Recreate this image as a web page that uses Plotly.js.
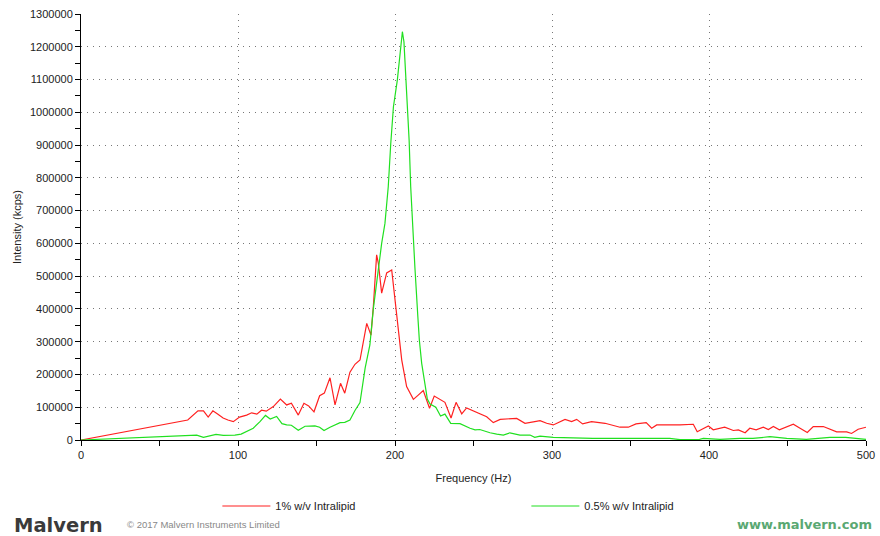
<!DOCTYPE html>
<html>
<head>
<meta charset="utf-8">
<script src="https://cdn.plot.ly/plotly-3.0.1.min.js"></script>
<style>html,body{margin:0;padding:0;background:#fff;}#chart{width:880px;height:536px;}</style>
</head>
<body>
<div id="chart"></div>
<script>
// Series 1: 1% w/v Intralipid
var freq1 = [0,68,74.5,78,81,84,87,90.5,93.6,97,101,105.5,108.7,112,115,118,122.5,127,131,134,138.4,142,145,148.4,152,155,158.6,161.8,165.3,168,171.3,174.5,177.7,182,184.7,186.2,188.3,189.4,191.5,194.7,197.9,200,203.2,204.3,207.4,210.6,211.7,214.8,218,222,225,231.8,235.7,238.9,242.5,245.6,251,258.4,262.6,267,277.5,282.8,289,292.4,296.6,300.8,308.3,312.5,315.7,319.5,325.2,333.8,343.3,348.6,353.5,360,363.5,366.7,381.5,390,392.5,399.6,402.7,410,415.5,418.7,423,426,430,434.6,437.8,441,444.8,449.5,453.7,458,462.6,466.4,472.8,481.3,487.7,490.8,495,500];
var int1 = [0,61000,89000,89000,70000,89000,79000,67000,61000,56000,70000,76000,83000,79000,91000,88000,102000,125000,107000,112000,76000,112000,104000,86000,135000,143000,190000,107000,173000,143000,207000,231000,244000,356000,320000,407000,565000,539000,448000,510000,519000,427000,300000,244000,163000,132000,124000,137000,151000,97000,134000,115000,67000,115000,80000,98000,86000,71000,53000,63000,66000,51000,56000,59000,51000,46000,63000,56000,63000,49000,56000,51000,39000,39000,49000,53000,36000,46000,46000,48000,25000,43000,31000,39000,29000,31000,22000,36000,31000,39000,32000,41000,31000,39000,48000,36000,23000,41000,41000,25000,25000,20000,33000,39000];
// Series 2: 0.5% w/v Intralipid
var freq2 = [0,25,50,67,73.7,78,86,90.6,98,102,109.7,114,117.5,120.5,124.6,128,131,134,138.4,142.7,149,152,154.8,158.6,160.7,165,168,171.3,174.5,177.7,181,184,186.2,189.4,191.5,193.6,195.7,197.3,199,201.5,203.2,204.7,205.7,207,208,209,210,211.2,212.7,214.5,215.5,217,219.5,220.6,222.3,226,229,231.8,235.5,241.4,247.8,251,254,260.5,264.8,269,273.2,279.6,286,289,292.4,300.8,326,375,381.5,394,396.4,407,419.7,428,438.8,449.5,462,477,487,492,500];
var int2 = [0,5000,10000,12000,15000,8000,17000,14000,15000,18000,36000,56000,75000,64000,72000,50000,46000,45000,30000,42000,43000,39000,29000,39000,43000,53000,54000,61000,90000,114000,220000,290000,400000,529000,600000,661000,773000,905000,1017000,1099000,1180000,1246000,1215000,1109000,1007000,915000,773000,650000,525000,380000,305000,234000,163000,125000,110000,100000,73000,79000,51000,50000,36000,31000,32000,22000,18000,15000,22000,15000,15000,8000,12000,8000,5000,5000,1000,2000,5000,2000,5000,5000,10000,5000,2000,8000,8000,5000,2000];

var seriesNames = ["1% w/v Intralipid", "0.5% w/v Intralipid"];
var seriesColors = ["#ff2020", "#20e020"];
var xTickVals = [0,100,200,300,400,500];
var yTickVals = [0,100000,200000,300000,400000,500000,600000,700000,800000,900000,1000000,1100000,1200000,1300000];

var traces = [
  {x: freq1, y: int1, type: 'scatter', mode: 'lines', name: seriesNames[0], line: {color: seriesColors[0], width: 1.2}},
  {x: freq2, y: int2, type: 'scatter', mode: 'lines', name: seriesNames[1], line: {color: seriesColors[1], width: 1.2}}
];

var tickFont = {family: 'Liberation Sans, Arial, sans-serif', size: 11, color: '#222'};

var layout = {
  width: 880, height: 536,
  margin: {l: 81, r: 14, t: 14, b: 96, autoexpand: false},
  paper_bgcolor: '#fff', plot_bgcolor: '#fff',
  showlegend: true,
  legend: {
    orientation: 'h', xref: 'container', yref: 'container',
    x: 0.247, y: 0.056, xanchor: 'left', yanchor: 'middle',
    entrywidth: 246, entrywidthmode: 'pixels', itemwidth: 48,
    font: {family: 'Liberation Sans, Arial, sans-serif', size: 11, color: '#222'},
    bgcolor: 'rgba(0,0,0,0)'
  },
  xaxis: {
    range: [0, 500], tickvals: xTickVals, ticktext: xTickVals.map(String),
    showline: true, linecolor: '#000', linewidth: 1, mirror: false,
    ticks: 'outside', ticklen: 5, tickcolor: '#000',
    minor: {dtick: 50, ticks: 'outside', ticklen: 5, tickcolor: '#000', showgrid: false},
    showgrid: true, gridcolor: '#777', griddash: '1px,5px', gridwidth: 1,
    zeroline: false, tickfont: tickFont,
    title: {text: 'Frequency (Hz)', font: tickFont, standoff: 14}
  },
  yaxis: {
    range: [0, 1300000], tickvals: yTickVals, ticktext: yTickVals.map(String),
    showline: true, linecolor: '#000', linewidth: 1,
    ticks: 'outside', ticklen: 5, tickcolor: '#000',
    minor: {dtick: 50000, ticks: 'outside', ticklen: 5, tickcolor: '#000', showgrid: false},
    showgrid: true, gridcolor: '#777', griddash: '1px,5px', gridwidth: 1,
    zeroline: false, tickfont: tickFont,
    title: {text: 'Intensity (kcps)', font: tickFont, standoff: 6}
  },
  annotations: [
    {xref: 'paper', yref: 'paper', x: -0.088, y: -0.2, xanchor: 'left', yanchor: 'middle', yshift: 0,
     text: '<b>Malvern</b>', showarrow: false,
     font: {family: 'DejaVu Sans, Arial, sans-serif', size: 19.5, color: '#3a3a3a'}},
    {xref: 'paper', yref: 'paper', x: 0.056, y: -0.2, xanchor: 'left', yanchor: 'middle', yshift: 1,
     text: '© 2017 Malvern Instruments Limited', showarrow: false,
     font: {family: 'Liberation Sans, Arial, sans-serif', size: 9.5, color: '#888'}},
    {xref: 'paper', yref: 'paper', x: 1.01, y: -0.2, xanchor: 'right', yanchor: 'middle', yshift: 1,
     text: '<b>www.malvern.com</b>', showarrow: false,
     font: {family: 'DejaVu Sans, Verdana, sans-serif', size: 13, color: '#5aa872'}}
  ]
};

Plotly.newPlot('chart', traces, layout, {displayModeBar: false, staticPlot: true});
</script>
</body>
</html>
